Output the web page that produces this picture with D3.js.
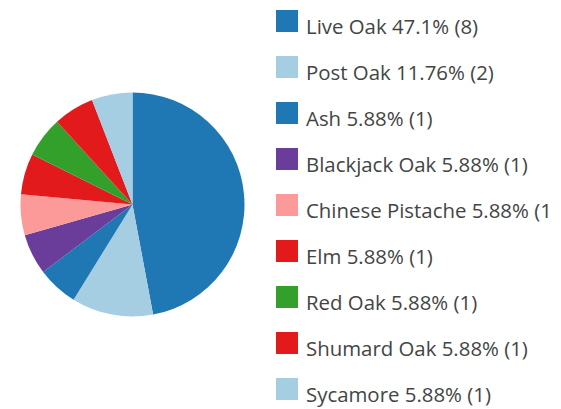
<!DOCTYPE html>
<html>
<head>
<meta charset="utf-8">
<script src="https://cdn.jsdelivr.net/npm/d3@7"></script>
<style>
  body { margin: 0; background: #fff; }
  svg { display: block; }
</style>
</head>
<body>
<svg id="pieChart"></svg>
<script>
// tree species counts
const species = ["Live Oak", "Post Oak", "Ash", "Blackjack Oak", "Chinese Pistache", "Elm", "Red Oak", "Shumard Oak", "Sycamore"];
const counts = [8, 2, 1, 1, 1, 1, 1, 1, 1];
const pctLabels = ["47.1", "11.76", "5.88", "5.88", "5.88", "5.88", "5.88", "5.88", "5.88"];
const sliceColors = ["#1f78b4", "#a6cee3", "#1f78b4", "#6a3d9a", "#fb9a99", "#e31a1c", "#33a02c", "#e31a1c", "#a6cee3"];

const width = 561, height = 409;
const data = species.map((s, i) => ({ label: s, value: counts[i], pct: pctLabels[i], color: sliceColors[i] }));

const svg = d3.select("#pieChart")
    .attr("width", width)
    .attr("height", height);

const radius = 112;
const g = svg.append("g")
    .attr("transform", `translate(132.5, 204.5)`);

const pie = d3.pie()
    .sort(null)
    .value(d => d.value);

const arc = d3.arc()
    .outerRadius(radius)
    .innerRadius(0);

g.selectAll("path")
    .data(pie(data))
    .enter().append("path")
    .attr("d", arc)
    .attr("fill", d => d.data.color);

// legend on the right, clipped like the original
svg.append("clipPath")
    .attr("id", "legendClip")
    .append("rect")
    .attr("x", 0).attr("y", 0)
    .attr("width", 550).attr("height", height);

const rowY = d3.scalePoint()
    .domain(species)
    .range([10, 378]);

const legendItems = svg.append("g")
    .attr("clip-path", "url(#legendClip)")
    .selectAll("g")
    .data(data)
    .enter().append("g")
    .attr("transform", d => `translate(276, ${rowY(d.label)})`);

legendItems.append("rect")
    .attr("width", 22)
    .attr("height", 22)
    .attr("fill", d => d.color);

legendItems.append("text")
    .attr("x", 30)
    .attr("y", 24)
    .attr("fill", "#444")
    .attr("font-family", "'Open Sans', 'Noto Sans', sans-serif")
    .attr("font-size", "20.4px")
    .text(d => `${d.label} ${d.pct}% (${d.value})`);
</script>
</body>
</html>
